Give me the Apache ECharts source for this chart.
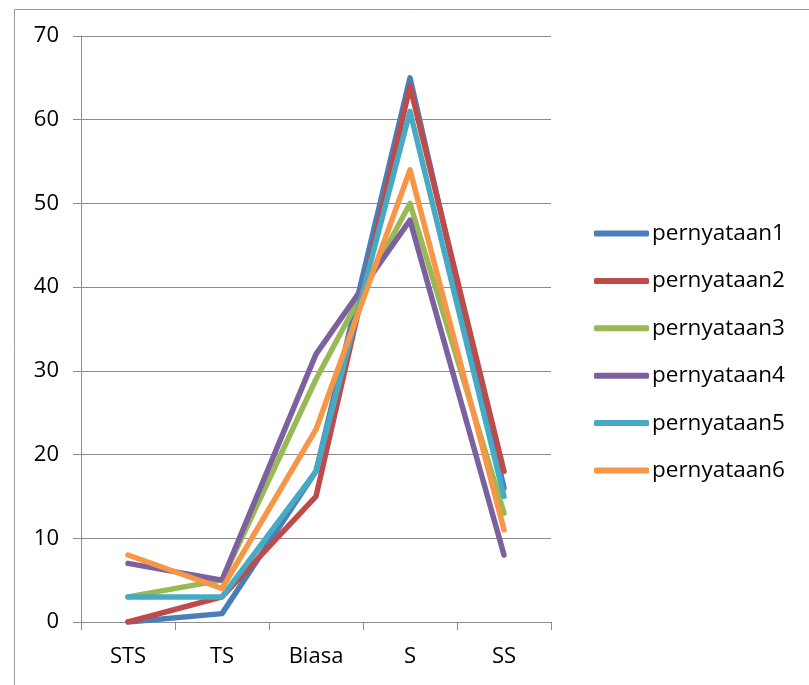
<!DOCTYPE html>
<html>
<head>
<meta charset="utf-8">
<script src="https://cdn.jsdelivr.net/npm/echarts@6/dist/echarts.min.js"></script>
<style>html,body{margin:0;padding:0;background:#fff}#c{width:809px;height:685px}</style>
</head>
<body>
<div id="c"></div>
<script>
var categories = ['STS', 'TS', 'Biasa', 'S', 'SS'];
var seriesNames = ['pernyataan1', 'pernyataan2', 'pernyataan3', 'pernyataan4', 'pernyataan5', 'pernyataan6'];
var p1 = [0, 1, 18, 65, 16];
var p2 = [0, 3, 15, 64, 18];
var p3 = [3, 5, 29, 50, 13];
var p4 = [7, 5, 32, 48, 8];
var p5 = [3, 3, 18, 61, 15];
var p6 = [8, 4, 23, 54, 11];
var colors = ['#4A7EBB', '#BE4B48', '#98B954', '#7D60A0', '#46AAC5', '#F79646'];

var allData = [p1, p2, p3, p4, p5, p6];
var chart = echarts.init(document.getElementById('c'));
var font = '"Open Sans", "Noto Sans", sans-serif';
chart.setOption({
  animation: false,
  color: colors,
  graphic: [{
    type: 'rect', left: 12, top: 7, silent: true,
    shape: { width: 820, height: 700 },
    style: { fill: 'none', stroke: '#9a9a9a', lineWidth: 1 }
  }],
  grid: { left: 81, right: 258, top: 36, bottom: 63, containLabel: false },
  legend: {
    orient: 'vertical', left: 589, top: 217,
    itemWidth: 55, itemHeight: 6, itemGap: 24.4,
    icon: 'roundRect',
    textStyle: { fontFamily: font, fontSize: 22.5, lineHeight: 23, color: '#000', padding: [0, 0, 0, -2] },
    data: seriesNames
  },
  xAxis: {
    type: 'category', data: categories, boundaryGap: true,
    axisLine: { lineStyle: { color: '#8c8c8c', width: 1 } },
    axisTick: { show: true, length: 8, lineStyle: { color: '#8c8c8c' } },
    axisLabel: { fontFamily: font, fontSize: 22, color: '#000', margin: 24 }
  },
  yAxis: {
    type: 'value', min: 0, max: 70, interval: 10,
    axisLine: { show: true, lineStyle: { color: '#8c8c8c', width: 1 } },
    axisTick: { show: true, length: 8, lineStyle: { color: '#8c8c8c' } },
    splitLine: { lineStyle: { color: '#8c8c8c', width: 1 } },
    axisLabel: { fontFamily: font, fontSize: 22, color: '#000', margin: 22 }
  },
  series: seriesNames.map(function (n, i) {
    return {
      name: n, type: 'line', data: allData[i], symbol: 'none',
      lineStyle: { width: 5.5, color: colors[i], cap: 'round', join: 'round' },
      itemStyle: { color: colors[i] }
    };
  })
});
</script>
</body>
</html>
